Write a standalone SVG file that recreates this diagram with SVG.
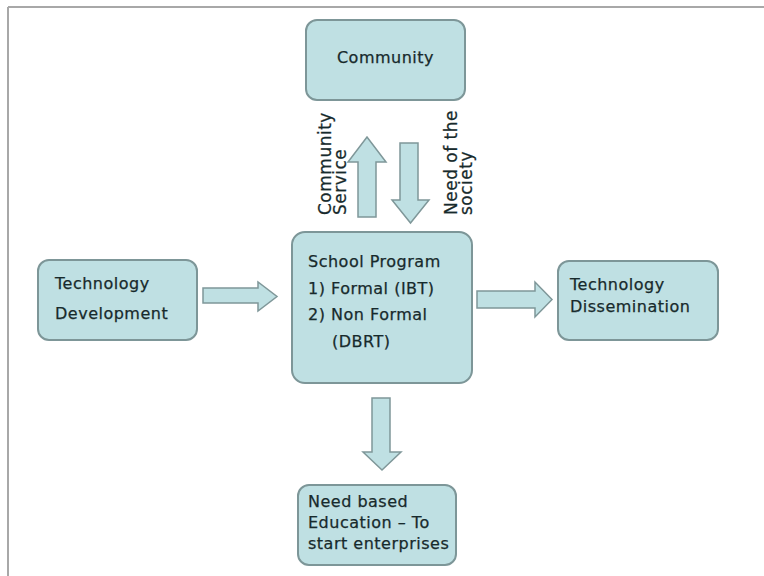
<svg xmlns="http://www.w3.org/2000/svg" width="764" height="576" viewBox="0 0 764 576">
<style>
.box{fill:#bfe0e3;stroke:#7d9698;stroke-width:2}
.arr{fill:#bfe0e3;stroke:#7f9799;stroke-width:1.5;stroke-linejoin:miter}
text{font-family:"DejaVu Sans",Verdana,sans-serif;font-size:16px;letter-spacing:0.5px;fill:#172a2c;stroke:#172a2c;stroke-width:0.25}
.rot{font-size:17px}
</style>
<rect x="0" y="0" width="764" height="576" fill="#ffffff"/>
<g id="frame" fill="none">
<line x1="8" y1="7" x2="764" y2="7" stroke="#a8a8a8" stroke-width="2"/>
<line x1="8" y1="7" x2="8" y2="576" stroke="#a8a8a8" stroke-width="2"/>
</g>
<g id="community">
<rect class="box" x="306" y="20" width="159" height="80" rx="11"/>
<text x="385.500" y="63" text-anchor="middle">Community</text>
</g>
<g id="techdev">
<rect class="box" x="38" y="260" width="159" height="80" rx="11"/>
<text x="55" y="289">Technology</text>
<text x="55" y="319">Development</text>
</g>
<g id="school">
<rect class="box" x="292" y="232" width="180" height="151" rx="13"/>
<text x="308" y="267">School Program</text>
<text x="308" y="294">1) Formal (IBT)</text>
<text x="308" y="320">2) Non Formal</text>
<text x="332" y="347">(DBRT)</text>
</g>
<g id="techdiss">
<rect class="box" x="558" y="261" width="160" height="79" rx="11"/>
<text x="570" y="290">Technology</text>
<text x="570" y="312">Dissemination</text>
</g>
<g id="needbased">
<rect class="box" x="298" y="485" width="158" height="80" rx="11"/>
<text x="308" y="507">Need based</text>
<text x="308" y="528">Education – To</text>
<text x="308" y="549">start enterprises</text>
</g>
<g id="connectors">
<polygon class="arr" points="358,217 358,162 348,162 367,137 386,162 376,162 376,217"/>
<polygon class="arr" points="400,143 418,143 418,200 429,200 410.500,223 392,200 400,200"/>
<polygon class="arr" points="203,288 258,288 258,282 277,296.500 258,311 258,303 203,303"/>
<polygon class="arr" points="477,291 535,291 535,282 552,299.500 535,317 535,308 477,308"/>
<polygon class="arr" points="372,398 390,398 390,452 401,452 382,470 363,452 372,452"/>
<text class="rot" transform="translate(331,215) rotate(-90)">Community</text>
<text class="rot" transform="translate(346,215) rotate(-90)">Service</text>
<text class="rot" transform="translate(457,215) rotate(-90)">Need of the</text>
<text class="rot" transform="translate(472,215) rotate(-90)">society</text>
</g>
</svg>
